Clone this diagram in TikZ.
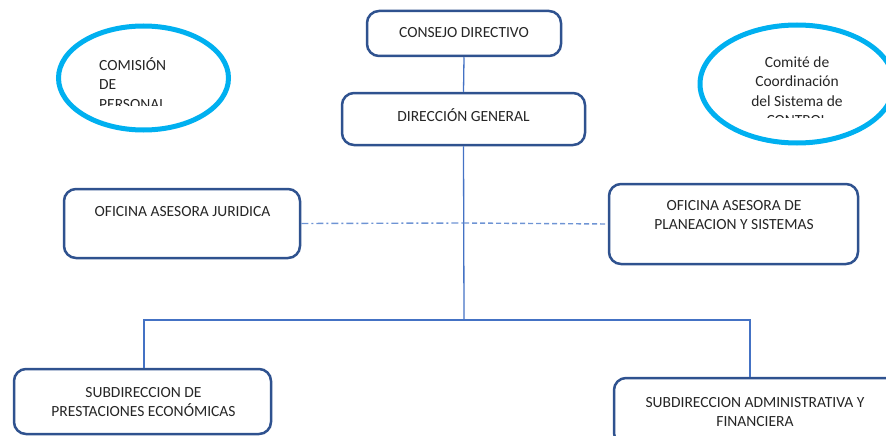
\documentclass[tikz,border=0pt]{standalone}
\usepackage{fontspec}
\setmainfont{Carlito}
\usepackage{tikz}
\usetikzlibrary{calc}
\definecolor{bordeazul}{RGB}{47,82,143}
\definecolor{lineaazul}{RGB}{68,114,196}
\definecolor{trazoclaro}{RGB}{110,148,212}
\definecolor{anillocian}{RGB}{0,176,240}
\definecolor{texto}{RGB}{38,38,38}

\begin{document}
\begin{tikzpicture}[x=1pt,y=-1pt,
  caja/.style={draw=bordeazul,line width=2.5pt,rounded corners=12pt,fill=white},
  rotulo/.style={align=center,text=texto,inner sep=0pt,font=\fontsize{15.5}{19}\selectfont},
  enlace/.style={draw=lineaazul,line width=1.3pt},
  anillo/.style={draw=anillocian,line width=5pt}]
 \useasboundingbox (0,0) rectangle (886,436);

% comisiones
 \draw[anillo] (143.5,78) ellipse (85 and 52);
 \draw[anillo] (797,84) ellipse (97 and 59);
 \begin{scope}
  \clip (90,40) rectangle (200,105);
  \node[rotulo,align=left,anchor=north west,font=\fontsize{15.5}{19.5}\selectfont] (comision) at (99,57) {COMISIÓN\\DE\\PERSONAL};
 \end{scope}
 \begin{scope}
  \clip (720,40) rectangle (880,117.5);
  \node[rotulo,anchor=north,font=\fontsize{15.5}{19.5}\selectfont] (comite) at (797,56.5) {Comité de\\Coordinación\\del Sistema de\\CONTROL};
 \end{scope}

% cajas
 \node[caja,minimum width=194,minimum height=45] (consejo) at (464,33.5) {};
 \node[caja,minimum width=243,minimum height=52] (direccion) at (463.5,119) {};
 \node[caja,minimum width=236,minimum height=69] (juridica) at (182,223.5) {};
 \node[caja,minimum width=249,minimum height=80] (planeacion) at (733.5,224) {};
 \node[caja,minimum width=257,minimum height=65] (prestaciones) at (142.5,401.5) {};
 \node[caja,minimum width=286,minimum height=67] (administrativa) at (757,411.5) {};

% rotulos
 \node[rotulo] (consejo-t) at (464,33) {CONSEJO DIRECTIVO};
 \node[rotulo] (direccion-t) at (463.5,115) {DIRECCIÓN GENERAL};
 \node[rotulo] (juridica-t) at (182.5,212) {OFICINA ASESORA JURIDICA};
 \node[rotulo] (planeacion-t) at (734,215.5) {OFICINA ASESORA DE\\PLANEACION Y SISTEMAS};
 \node[rotulo] (prestaciones-t) at (143.5,402) {SUBDIRECCION DE\\PRESTACIONES ECONÓMICAS};
 \node[rotulo] (administrativa-t) at (755,412.5) {SUBDIRECCION ADMINISTRATIVA Y\\FINANCIERA};

% conectores
 \coordinate (bus) at (464,320);
 \coordinate (asesor) at (464,223);
 \draw[enlace] (consejo.south) -- (direccion.north);
 \draw[enlace] (direccion.south) -- (bus);
 \draw[enlace] (bus) -| ([xshift=1.5]prestaciones.north);
 \draw[enlace] (bus) -| ([xshift=-7]administrativa.north);
 \draw[draw=trazoclaro,line width=1.4pt,dash pattern=on 7pt off 3pt on 2pt off 3pt] (juridica.east) -- (asesor);
 \draw[draw=trazoclaro,line width=1.4pt,dash pattern=on 5pt off 3pt] (asesor) -- (planeacion.west);
\end{tikzpicture}
\end{document}
